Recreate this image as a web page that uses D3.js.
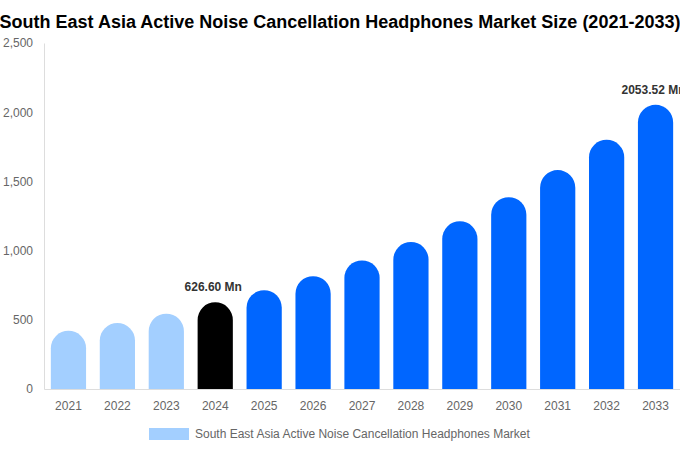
<!DOCTYPE html>
<html>
<head>
<meta charset="utf-8">
<script src="https://cdn.jsdelivr.net/npm/d3@7"></script>
<style>
  body { margin: 0; background: #fff; }
  svg { display: block; font-family: "Liberation Sans", Arial, sans-serif; }
</style>
</head>
<body>
<svg id="chart" width="680" height="450"></svg>
<script>
const years = ["2021","2022","2023","2024","2025","2026","2027","2028","2029","2030","2031","2032","2033"]
const values = [421, 477, 544, 626.6, 714, 815, 929, 1062, 1212, 1386, 1582, 1801, 2053.52]
const yTicks = [0, 500, 1000, 1500, 2000, 2500]
const labels = {"2024": "626.60 Mn", "2033": "2053.52 Mn"}

const svg = d3.select('#chart')
const plotLeft = 44, plotRight = 680, plotTop = 43, plotBottom = 389

const x = d3.scaleBand().domain(years).range([plotLeft, plotRight]).paddingInner(0.28).paddingOuter(0.14)
const y = d3.scaleLinear().domain([0, 2500]).range([plotBottom, plotTop])

function colorOf(yr) {
    if (+yr < 2024) return '#a3cfff'
    if (+yr === 2024) return '#000000'
    return '#0066ff'
}

// title
svg.append('text')
    .attr('x', 340).attr('y', 28)
    .attr('text-anchor', 'middle')
    .attr('font-size', 18).attr('font-weight', 'bold')
    .attr('fill', '#000')
    .text('South East Asia Active Noise Cancellation Headphones Market Size (2021-2033)')

// y axis
const yAxis = svg.append('g').attr('transform', 'translate(' + plotLeft + ',0)')
    .call(d3.axisLeft(y).tickValues(yTicks).tickSize(0).tickPadding(11).tickFormat(d3.format(',')))
yAxis.select('.domain').attr('stroke', '#ddd')
yAxis.selectAll('text').attr('fill', '#666').attr('font-size', 12).attr('font-family', 'Liberation Sans, Arial, sans-serif')

// x axis
const xAxis = svg.append('g').attr('transform', 'translate(0,' + plotBottom + ')')
    .call(d3.axisBottom(x).tickSize(0).tickPadding(12))
xAxis.select('.domain').attr('stroke', '#ddd')
xAxis.selectAll('text').attr('fill', '#666').attr('font-size', 12).attr('font-family', 'Liberation Sans, Arial, sans-serif')

// bars with rounded tops
svg.append('g')
    .selectAll('path')
    .data(years)
    .join('path')
    .attr('fill', function(d){ return colorOf(d) })
    .attr('d', function(d, i){
        const w = x.bandwidth()
        const r = w / 2
        const x0 = x(d)
        const yt = y(values[i])
        const yb = y(0)
        return 'M' + x0 + ',' + yb +
            'L' + x0 + ',' + (yt + r) +
            'A' + r + ',' + r + ' 0 0 1 ' + (x0 + w) + ',' + (yt + r) +
            'L' + (x0 + w) + ',' + yb + 'Z'
    })

// value labels
svg.append('g')
    .selectAll('text')
    .data(years.filter(function(d){ return labels[d] }))
    .join('text')
    .attr('x', function(d){ return x(d) + x.bandwidth() / 2 - 2 })
    .attr('y', function(d){ return y(values[years.indexOf(d)]) - 11 })
    .attr('text-anchor', 'middle')
    .attr('font-size', 12).attr('font-weight', 'bold')
    .attr('fill', '#333')
    .text(function(d){ return labels[d] })

// legend
svg.append('rect').attr('x', 149).attr('y', 428).attr('width', 40).attr('height', 12).attr('fill', '#a3cfff')
svg.append('text').attr('x', 195).attr('y', 438)
    .attr('font-size', 12).attr('fill', '#666')
    .text('South East Asia Active Noise Cancellation Headphones Market')
</script>
</body>
</html>
